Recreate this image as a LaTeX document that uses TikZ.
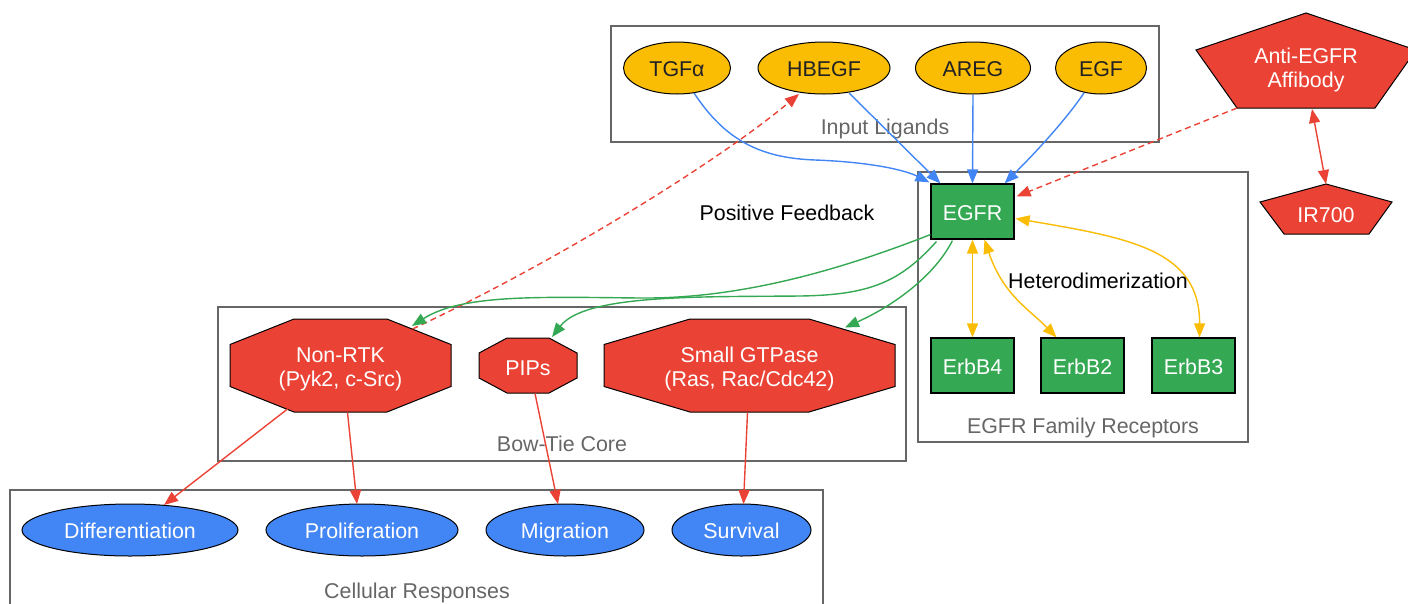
\documentclass[tikz,border=0pt]{standalone}
\usepackage{fontspec}
\setmainfont{Liberation Sans}
\usetikzlibrary{arrows.meta,calc,shapes.geometric}
\definecolor{cyel}{HTML}{FBBC04}
\definecolor{cblue}{HTML}{4285F4}
\definecolor{cgreen}{HTML}{34A853}
\definecolor{cred}{HTML}{EA4335}
\definecolor{clgray}{HTML}{666666}
\definecolor{ctext}{HTML}{202124}
\tikzset{
  lig/.style={ellipse, draw=black, line width=1pt, fill=cyel, text=ctext, inner sep=0pt, minimum height=52pt, text height=17pt, text depth=0pt},
  resp/.style={ellipse, draw=black, line width=1pt, fill=cblue, text=white, inner sep=0pt, minimum height=52pt, text height=17pt, text depth=0pt},
  rec/.style={rectangle, draw=black, line width=1.2pt, fill=cgreen, text=white, minimum width=83pt, minimum height=55pt, inner sep=0pt, text height=17pt, text depth=0pt},
  txt/.style={inner sep=0pt, align=center},
  wtxt/.style={txt, text=white},
  clab/.style={inner sep=0pt, text=clgray, text height=17pt, text depth=0pt},
  clbox/.style={draw=clgray, line width=1.2pt},
  shp/.style={fill=cred, draw=black, line width=1pt, line join=miter},
  conn/.style={line width=1.4pt, -{Triangle[length=14pt,width=11pt]}},
  bconn/.style={line width=1.4pt, {Triangle[length=14pt,width=11pt]}-{Triangle[length=14pt,width=11pt]}},
  bl/.style={conn, draw=cblue},
  gr/.style={conn, draw=cgreen},
  rd/.style={conn, draw=cred},
  rdash/.style={conn, draw=cred, dash pattern=on 6pt off 4pt},
  yl/.style={bconn, draw=cyel},
  rdb/.style={bconn, draw=cred},
}
\begin{document}
\begin{tikzpicture}[x=1pt,y=-1pt,font=\fontsize{21.4}{24}\selectfont]
\useasboundingbox (0,0) rectangle (1408,603);
% clusters
\draw[clbox] (611,26) rectangle (1159,142);
\node[clab] (lInput) at (885,126) {Input Ligands};
\draw[clbox] (918,172) rectangle (1248,442);
\node[clab] (lFam) at (1083,425) {EGFR Family Receptors};
\draw[clbox] (218,307) rectangle (906,461);
\node[clab] (lCore) at (562,443) {Bow-Tie Core};
\draw[clbox] (10,490) rectangle (823,630);
\node[clab] (lResp) at (417,590) {Cellular Responses};

% ligands
\node[lig, minimum width=107pt] (tgfa) at (677,68) {TGFα};
\node[lig, minimum width=132pt] (hbegf) at (824,68) {HBEGF};
\node[lig, minimum width=115pt] (areg) at (973,68) {AREG};
\node[lig, minimum width=91pt] (egf) at (1101,68) {EGF};

% affibody and IR700
\path[shp] (1306,13) -- (1416,50) -- (1375,108) -- (1237,108) -- (1196,50) -- cycle;
\node[wtxt] (aff) at (1306,70) {Anti-EGFR\\Affibody};
\path[shp] (1326,184) -- (1392,202) -- (1369,234) -- (1284,234) -- (1260,202) -- cycle;
\node[wtxt] (ir) at (1326,215) {IR700};

% receptors
\node[rec] (egfr) at (972.5,211.5) {EGFR};
\node[rec] (erbb4) at (972.5,365.5) {ErbB4};
\node[rec] (erbb2) at (1082.5,365.5) {ErbB2};
\node[rec] (erbb3) at (1193.5,365.5) {ErbB3};

% bow-tie core octagons
\path[shp] (294,319) -- (387,319) -- (451,344.5) -- (451,386.5) -- (387,412) -- (294,412) -- (230,386.5) -- (230,344.5) -- cycle;
\node[wtxt] (nrtk) at (340.5,369) {Non-RTK\\(Pyk2, c-Src)};
\path[shp] (507,338) -- (549,338) -- (577,353) -- (577,378) -- (549,393) -- (507,393) -- (479,378) -- (479,353) -- cycle;
\node[wtxt] (pips) at (528,368) {PIPs};
\path[shp] (690,319) -- (809,319) -- (895,344.5) -- (895,386.5) -- (809,412) -- (690,412) -- (604,386.5) -- (604,344.5) -- cycle;
\node[wtxt] (gtp) at (749.5,369) {Small GTPase\\(Ras, Rac/Cdc42)};

% responses
\node[resp, minimum width=216pt] (diff) at (130,530) {Differentiation};
\node[resp, minimum width=192pt] (prol) at (362,530) {Proliferation};
\node[resp, minimum width=158pt] (migr) at (565,530) {Migration};
\node[resp, minimum width=139pt] (surv) at (741.5,530) {Survival};

% ligand -> EGFR
\draw[bl] ($(tgfa)+(17,25)$) .. controls (725,140) and (760,158) .. (815,160) .. controls (870,162) and (905,170) .. ($(egfr.north west)+(-1,-1)$);
\draw[bl] ($(hbegf)+(25,25)$) -- ($(egfr.north west)+(10,0)$);
\draw[bl] (areg.south) -- (egfr.north);
\draw[bl] ($(egf)+(-17,25)$) .. controls (1062,125) and (1030,158) .. ($(egfr.north east)+(-10,0)$);

% feedback and affibody
\draw[rdash] ($(nrtk)+(72,-40)$) .. controls (560,260) and (720,160) .. ($(hbegf)+(-25,26)$);
\draw[rdash] ($(aff)+(-69,38)$) -- ($(egfr.north east)+(2,13)$);
\draw[rdb] ($(aff)+(6,39)$) -- (ir.north |- 0,184);

% EGFR -> core
\draw[gr] ($(egfr.south west)+(0,-5)$) .. controls (840,270) and (740,299) .. (640,298) .. controls (540,297) and (462,294) .. ($(nrtk)+(71.5,-43)$);
\draw[gr] ($(egfr.south west)+(6,2)$) .. controls (900,282) and (870,295) .. (800,296) .. controls (700,297) and (585,294) .. ($(pips)+(24,-31)$);
\draw[gr] ($(egfr.south west)+(22,1)$) .. controls (935,275) and (895,305) .. ($(gtp)+(95.5,-41.5)$);

% heterodimerization
\draw[yl] (egfr.south) -- (erbb4.north);
\draw[yl] ($(egfr.south)+(12,0)$) .. controls (1003,295) and (1030,310) .. ($(erbb2.north)+(-26,0)$);
\draw[yl] ($(egfr.east)+(1,7)$) .. controls (1130,238) and (1200,250) .. ($(erbb3.north)+(6,0)$);

% core -> responses
\draw[rd] ($(nrtk)+(-53,40)$) -- ($(diff)+(34,-25)$);
\draw[rd] ($(nrtk)+(7,43.5)$) -- ($(prol)+(-5,-26)$);
\draw[rd] ($(pips)+(7,25.5)$) -- ($(migr)+(-7,-26)$);
\draw[rd] ($(gtp)+(-2,43.5)$) -- ($(surv)+(2,-26)$);

% edge labels
\node[txt] (pf) at (787,213) {Positive Feedback};
\node[txt] (het) at (1098,281) {Heterodimerization};
\end{tikzpicture}
\end{document}
